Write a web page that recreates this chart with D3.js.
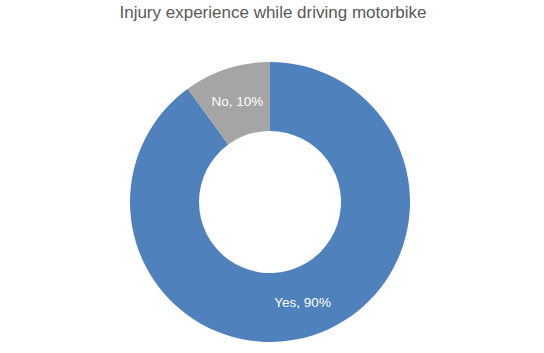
<!DOCTYPE html>
<html>
<head>
<meta charset="utf-8">
<script src="https://cdn.jsdelivr.net/npm/d3@7"></script>
<style>
  body { margin: 0; background: #fff; }
  svg { display: block; font-family: "Liberation Sans", Arial, sans-serif; }
</style>
</head>
<body>
<div id="chart"></div>
<script>
// chart data
var categories = ["Yes", "No"];
var values = [90, 10];
var colors = ["#4F81BD", "#A5A5A5"];
var title = "Injury experience while driving motorbike";

var width = 544, height = 353;
var cx = 270, cy = 202;
var outerR = 140, innerR = 71;

var svg = d3.select("#chart").append("svg")
    .attr("width", width)
    .attr("height", height);

// title
svg.append("text")
    .attr("x", 273)
    .attr("y", 18)
    .attr("text-anchor", "middle")
    .attr("font-size", "17px")
    .attr("fill", "#595959")
    .text(title);

var data = categories.map(function (c, i) { return { label: c, value: values[i], color: colors[i] }; });

var pie = d3.pie()
    .sort(null)
    .value(function (d) { return d.value; });

var arc = d3.arc()
    .innerRadius(innerR)
    .outerRadius(outerR);

var g = svg.append("g").attr("transform", "translate(" + cx + "," + cy + ")");

var arcs = pie(data);

g.selectAll("path")
    .data(arcs)
    .enter().append("path")
    .attr("d", arc)
    .attr("fill", function (d) { return d.data.color; });

// labels at slice centroid
g.selectAll("text")
    .data(arcs)
    .enter().append("text")
    .attr("transform", function (d) { return "translate(" + arc.centroid(d) + ")"; })
    .attr("text-anchor", "middle")
    .attr("dy", "0.35em")
    .attr("font-size", "13.5px")
    .attr("fill", "#fff")
    .text(function (d) {
        var total = d3.sum(values);
        return d.data.label + ", " + Math.round(d.data.value / total * 100) + "%";
    });
</script>
</body>
</html>
